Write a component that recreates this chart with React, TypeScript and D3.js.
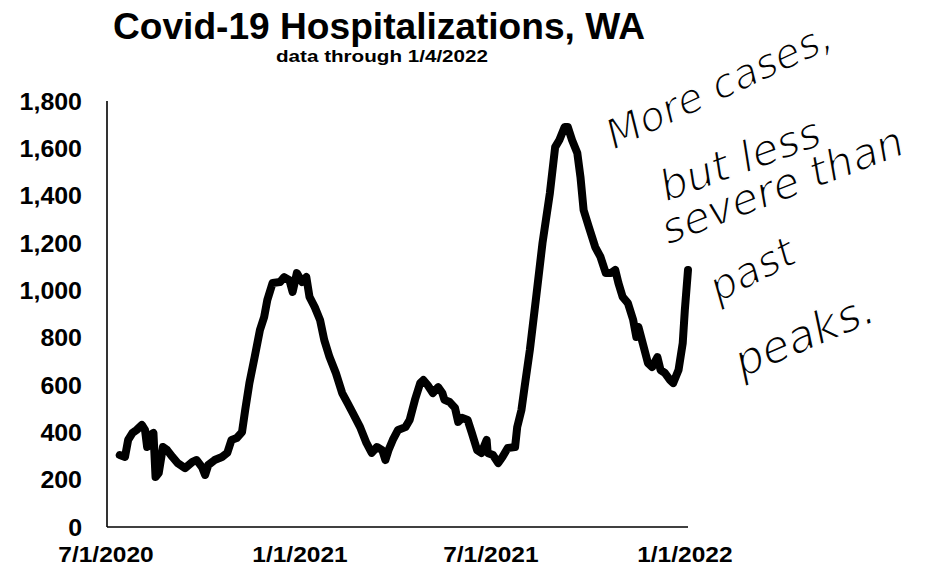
import React from "react";
import * as d3 from "d3";

const dates: string[] = [
  "2020-07-14","2020-07-19","2020-07-22","2020-07-26","2020-07-30","2020-08-04","2020-08-07","2020-08-09",
  "2020-08-12","2020-08-15","2020-08-17","2020-08-20","2020-08-24","2020-08-28","2020-09-02","2020-09-07",
  "2020-09-14","2020-09-21","2020-09-25","2020-09-30","2020-10-03","2020-10-06","2020-10-12","2020-10-19",
  "2020-10-24","2020-10-28","2020-11-02","2020-11-07","2020-11-10","2020-11-14","2020-11-19","2020-11-24",
  "2020-11-28","2020-12-01","2020-12-06","2020-12-13","2020-12-17","2020-12-22","2020-12-25","2020-12-29",
  "2021-01-03","2021-01-07","2021-01-10","2021-01-15","2021-01-20","2021-01-24","2021-01-29","2021-02-04",
  "2021-02-10","2021-02-15","2021-02-20","2021-02-27","2021-03-05","2021-03-10","2021-03-15","2021-03-20",
  "2021-03-23","2021-03-26","2021-03-30","2021-04-04","2021-04-11","2021-04-15","2021-04-20","2021-04-25",
  "2021-04-28","2021-05-02","2021-05-07","2021-05-12","2021-05-16","2021-05-18","2021-05-23","2021-05-28",
  "2021-05-31","2021-06-04","2021-06-09","2021-06-13","2021-06-18","2021-06-22","2021-06-27","2021-06-28",
  "2021-07-03","2021-07-08","2021-07-12","2021-07-17","2021-07-24","2021-07-26","2021-07-30","2021-08-02",
  "2021-08-07","2021-08-13","2021-08-19","2021-08-26","2021-08-31","2021-09-04","2021-09-09","2021-09-12",
  "2021-09-16","2021-09-21","2021-09-24","2021-09-27","2021-10-02","2021-10-08","2021-10-13","2021-10-18",
  "2021-10-23","2021-10-27","2021-10-30","2021-11-03","2021-11-08","2021-11-13","2021-11-16","2021-11-18",
  "2021-11-22","2021-11-27","2021-12-01","2021-12-06","2021-12-09","2021-12-13","2021-12-18","2021-12-21",
  "2021-12-26","2021-12-30","2022-01-01","2022-01-04"
];

const hospitalizations: number[] = [
  304,296,368,397,410,431,410,338,
  389,397,211,228,338,325,296,270,
  249,275,283,253,220,262,283,296,
  313,368,376,401,494,608,718,832,
  887,959,1031,1035,1056,1043,993,1073,
  1035,1056,972,929,875,790,718,651,
  566,524,482,422,355,313,338,325,
  283,325,368,410,422,452,537,608,
  621,600,566,591,566,537,528,503,
  444,461,452,397,325,313,368,313,
  304,270,296,334,338,422,494,591,
  748,972,1200,1411,1605,1635,1690,1690,
  1635,1580,1479,1339,1267,1183,1141,1073,
  1073,1086,1031,972,946,875,803,845,
  777,693,676,718,663,651,621,608,
  663,777,917,1086
];

const yTicks: number[] = [0, 200, 400, 600, 800, 1000, 1200, 1400, 1600, 1800];
const xTickDates: string[] = ["2020-07-01", "2021-01-01", "2021-07-01", "2022-01-01"];
const xDomain: string[] = ["2020-07-01", "2022-01-04"];

const titleText = "Covid-19 Hospitalizations, WA";
const subtitleText = "data through 1/4/2022";
const noteLines: { text: string; x: number; y: number; angle: number; size: number }[] = [
  { text: "More cases,", x: 614, y: 150, angle: -25, size: 41 },
  { text: "but less", x: 666, y: 202, angle: -20, size: 43 },
  { text: "severe than", x: 668, y: 245, angle: -21, size: 43 },
  { text: "past", x: 718, y: 303, angle: -27, size: 42 },
  { text: "peaks.", x: 742, y: 378, angle: -23, size: 45 },
];

const parse = d3.utcParse("%Y-%m-%d");
const fmtTick = d3.utcFormat("%-m/%-d/%Y");

export default function App() {
  const W = 937, H = 569;
  const x = d3.scaleUtc().domain(xDomain.map((s) => parse(s) as Date)).range([106, 688]);
  const y = d3.scaleLinear().domain([0, 1800]).range([527, 101]);
  const data = dates.map((d, i) => ({ date: parse(d) as Date, v: hospitalizations[i] }));
  const line = d3.line<{ date: Date; v: number }>().x((d) => x(d.date)).y((d) => y(d.v));
  const fmtY = d3.format(",");
  const font = "'Liberation Sans', Arial, sans-serif";

  return (
    <svg width={W} height={H} style={{ position: "absolute", left: 0, top: 0, background: "#fff" }}>
      <rect x={0} y={0} width={W} height={H} fill="#fff" />
      <text x={379} y={39} textAnchor="middle" fontFamily={font} fontWeight="bold" fontSize={36}
        textLength={532} lengthAdjust="spacingAndGlyphs" fill="#000">{titleText}</text>
      <text x={382} y={62} textAnchor="middle" fontFamily={font} fontWeight="bold" fontSize={17}
        textLength={212} lengthAdjust="spacingAndGlyphs" fill="#000">{subtitleText}</text>

      {yTicks.map((t) => (
        <text key={t} transform={`translate(82,${y(t)}) scale(1.04,1)`} textAnchor="end" dy="0.36em"
          fontFamily={font} fontWeight="bold" fontSize={24} fill="#000">{fmtY(t)}</text>
      ))}
      {xTickDates.map((s) => {
        const d = parse(s) as Date;
        return (
          <text key={s} transform={`translate(${x(d)},562) scale(1.09,1)`} textAnchor="middle"
            fontFamily={font} fontWeight="bold" fontSize={22.5} fill="#000">{fmtTick(d)}</text>
        );
      })}

      <line x1={107} x2={107} y1={y(1800)} y2={y(0)} stroke="#000" strokeWidth={1.6} />
      <line x1={107} x2={688} y1={y(0)} y2={y(0)} stroke="#000" strokeWidth={1.6} />

      <path d={line(data) || ""} fill="none" stroke="#000" strokeWidth={8}
        strokeLinejoin="round" strokeLinecap="round" />

      {noteLines.map((n, i) => (
        <text key={i} transform={`translate(${n.x},${n.y}) rotate(${n.angle})`}
          fontFamily="'DejaVu Sans', sans-serif" fontStyle="italic"
          fontSize={n.size} fill="#000" stroke="#fff" strokeWidth={1.4}>{n.text}</text>
      ))}
    </svg>
  );
}
